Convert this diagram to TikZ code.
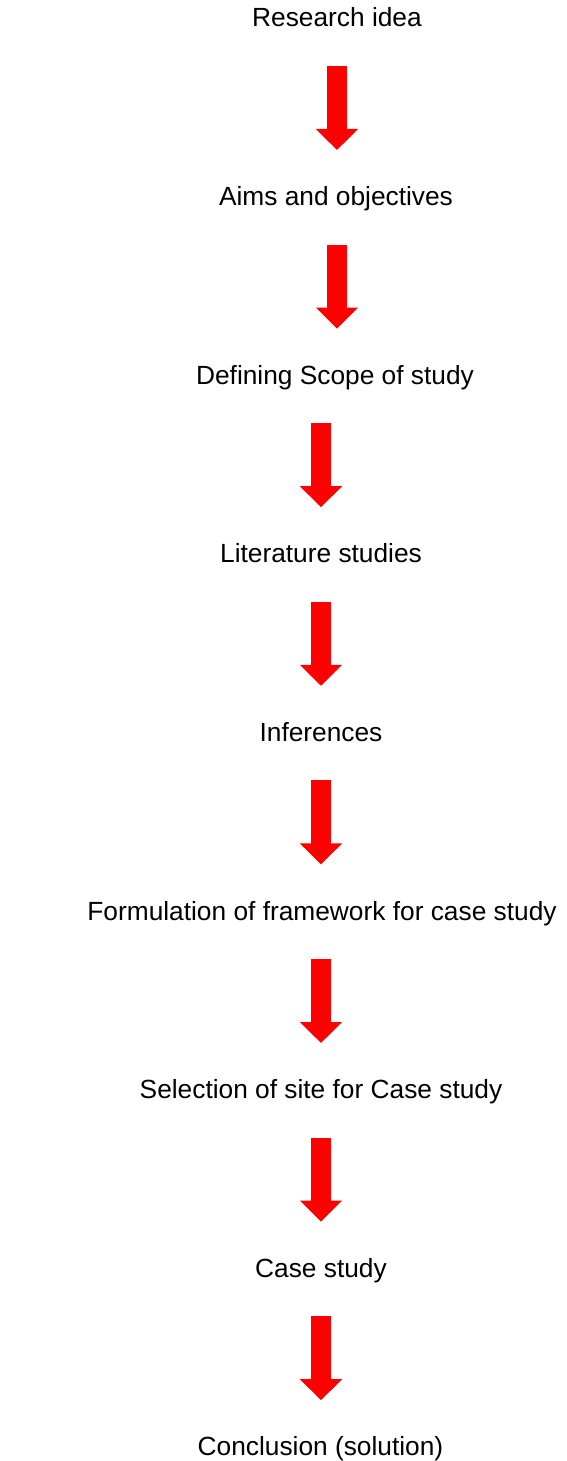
\documentclass[tikz,border=0pt]{standalone}
\usepackage{fontspec}
\setmainfont{Liberation Sans}
\usetikzlibrary{arrows.meta}
\tikzstyle{stage} = [anchor=base, inner sep=0pt, font=\fontsize{13.15}{15}\selectfont]
\tikzstyle{flow} = [draw=red, line width=10pt, shorten <=19.5pt, shorten >=27.8pt, -{Triangle[width=20.5pt,length=10.5pt]}]

\begin{document}
\begin{tikzpicture}[x=0.5pt,y=-0.5pt]
    \useasboundingbox (0,0) rectangle (567,1461);
    \node [stage] at (337,27) (idea) {Research idea};
    \node [stage] at (336,205.6) (aims) {Aims and objectives};
    \node [stage] at (335,384.2) (scope) {Defining Scope of study};
    \node [stage] at (321,562.8) (lit) {Literature studies};
    \node [stage] at (321,741.4) (infer) {Inferences};
    \node [stage] at (322,920) (frame) {Formulation of framework for case study};
    \node [stage] at (321,1098.6) (site) {Selection of site for Case study};
    \node [stage] at (321,1277.2) (case) {Case study};
    \node [stage] at (320.5,1455.8) (concl) {Conclusion (solution)};
    \draw [flow] (idea.base) -- (idea.base |- aims.base);
    \draw [flow] (idea.base |- aims.base) -- (idea.base |- scope.base);
    \draw [flow] (scope.base -| lit.base) -- (lit.base);
    \draw [flow] (lit.base) -- (lit.base |- infer.base);
    \draw [flow] (lit.base |- infer.base) -- (lit.base |- frame.base);
    \draw [flow] (lit.base |- frame.base) -- (lit.base |- site.base);
    \draw [flow] (lit.base |- site.base) -- (lit.base |- case.base);
    \draw [flow] (lit.base |- case.base) -- (lit.base |- concl.base);
\end{tikzpicture}
\end{document}
